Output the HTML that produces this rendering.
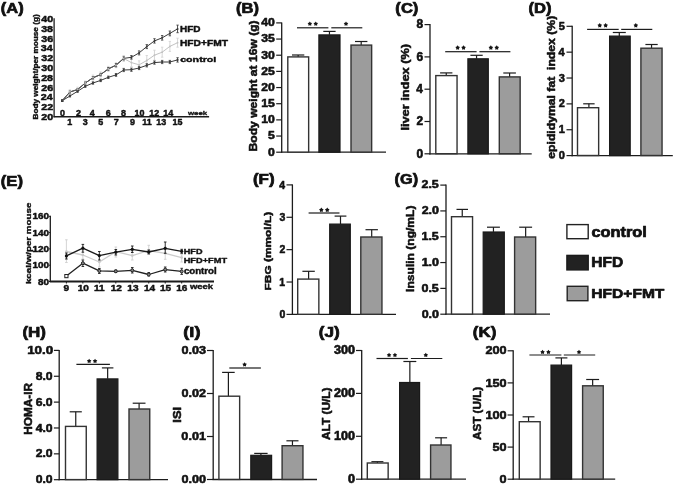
<!DOCTYPE html>
<html><head><meta charset="utf-8"><title>Figure</title>
<style>
html,body{margin:0;padding:0;background:#fff;}
body{width:675px;height:485px;overflow:hidden;}
svg{display:block;filter:blur(0.45px);}
text{font-family:"Liberation Sans",sans-serif;font-weight:bold;stroke:#111;stroke-linejoin:round;}
</style></head><body>
<svg width="675" height="485" viewBox="0 0 675 485">
<rect width="675" height="485" fill="#fff"/>
<line x1="54.1" y1="18.2" x2="54.1" y2="117.3" stroke="#1c1c1c" stroke-width="1.3"/>
<line x1="53.5" y1="116.7" x2="209.1" y2="116.7" stroke="#1c1c1c" stroke-width="1.4"/>
<text transform="translate(41.24,120.1) scale(1.0864,1)" font-size="9.859" stroke-width="0.493" fill="#111">20</text>
<text transform="translate(41.24,110.28) scale(1.0864,1)" font-size="9.859" stroke-width="0.493" fill="#111">22</text>
<text transform="translate(40.86,100.46) scale(1.0864,1)" font-size="9.859" stroke-width="0.493" fill="#111">24</text>
<text transform="translate(41.19,90.64) scale(1.0864,1)" font-size="9.859" stroke-width="0.493" fill="#111">26</text>
<text transform="translate(41.13,80.82) scale(1.0864,1)" font-size="9.859" stroke-width="0.493" fill="#111">28</text>
<text transform="translate(41.24,71) scale(1.0864,1)" font-size="9.859" stroke-width="0.493" fill="#111">30</text>
<text transform="translate(41.24,61.18) scale(1.0864,1)" font-size="9.859" stroke-width="0.493" fill="#111">32</text>
<text transform="translate(40.86,51.36) scale(1.0864,1)" font-size="9.859" stroke-width="0.493" fill="#111">34</text>
<text transform="translate(41.19,41.54) scale(1.0864,1)" font-size="9.859" stroke-width="0.493" fill="#111">36</text>
<text transform="translate(41.13,31.72) scale(1.0864,1)" font-size="9.859" stroke-width="0.493" fill="#111">38</text>
<text transform="translate(41.24,21.9) scale(1.0864,1)" font-size="9.859" stroke-width="0.493" fill="#111">40</text>
<text transform="translate(60.11,115.75) scale(0.9215,1)" font-size="9.718" stroke-width="0.486" fill="#111">0</text>
<text transform="translate(76.04,115.75) scale(0.9215,1)" font-size="9.718" stroke-width="0.486" fill="#111">2</text>
<text transform="translate(89.67,115.75) scale(0.9215,1)" font-size="9.718" stroke-width="0.486" fill="#111">4</text>
<text transform="translate(105.81,115.75) scale(0.9215,1)" font-size="9.718" stroke-width="0.486" fill="#111">6</text>
<text transform="translate(120.91,115.75) scale(0.9215,1)" font-size="9.718" stroke-width="0.486" fill="#111">8</text>
<text transform="translate(134.42,115.75) scale(0.9215,1)" font-size="9.718" stroke-width="0.486" fill="#111">10</text>
<text transform="translate(149.32,115.75) scale(0.9215,1)" font-size="9.718" stroke-width="0.486" fill="#111">12</text>
<text transform="translate(163.26,115.75) scale(0.9215,1)" font-size="9.718" stroke-width="0.486" fill="#111">14</text>
<text transform="translate(67.34,125.05) scale(0.9215,1)" font-size="9.718" stroke-width="0.486" fill="#111">1</text>
<text transform="translate(82.66,125.05) scale(0.9215,1)" font-size="9.718" stroke-width="0.486" fill="#111">3</text>
<text transform="translate(98.19,125.05) scale(0.9215,1)" font-size="9.718" stroke-width="0.486" fill="#111">5</text>
<text transform="translate(113.81,125.05) scale(0.9215,1)" font-size="9.718" stroke-width="0.486" fill="#111">7</text>
<text transform="translate(129.91,125.05) scale(0.9215,1)" font-size="9.718" stroke-width="0.486" fill="#111">9</text>
<text transform="translate(142.3,125.05) scale(0.9215,1)" font-size="9.718" stroke-width="0.486" fill="#111">11</text>
<text transform="translate(156.3,125.05) scale(0.9215,1)" font-size="9.718" stroke-width="0.486" fill="#111">13</text>
<text transform="translate(172.55,125.05) scale(0.9215,1)" font-size="9.718" stroke-width="0.486" fill="#111">15</text>
<text transform="translate(187.9,115.39) scale(1.3254,1)" font-size="5.986" stroke-width="0.299" fill="#111">week</text>
<line x1="62.2" y1="99.9" x2="62.2" y2="101.5" stroke="#d2d2d2" stroke-width="0.9"/>
<line x1="61" y1="99.9" x2="63.4" y2="99.9" stroke="#d2d2d2" stroke-width="0.8"/>
<line x1="61" y1="101.5" x2="63.4" y2="101.5" stroke="#d2d2d2" stroke-width="0.8"/>
<line x1="69.89" y1="89.8" x2="69.89" y2="93.8" stroke="#d2d2d2" stroke-width="0.9"/>
<line x1="68.69" y1="89.8" x2="71.09" y2="89.8" stroke="#d2d2d2" stroke-width="0.8"/>
<line x1="68.69" y1="93.8" x2="71.09" y2="93.8" stroke="#d2d2d2" stroke-width="0.8"/>
<line x1="77.58" y1="87.2" x2="77.58" y2="91.2" stroke="#d2d2d2" stroke-width="0.9"/>
<line x1="76.38" y1="87.2" x2="78.78" y2="87.2" stroke="#d2d2d2" stroke-width="0.8"/>
<line x1="76.38" y1="91.2" x2="78.78" y2="91.2" stroke="#d2d2d2" stroke-width="0.8"/>
<line x1="85.27" y1="81" x2="85.27" y2="85" stroke="#d2d2d2" stroke-width="0.9"/>
<line x1="84.07" y1="81" x2="86.47" y2="81" stroke="#d2d2d2" stroke-width="0.8"/>
<line x1="84.07" y1="85" x2="86.47" y2="85" stroke="#d2d2d2" stroke-width="0.8"/>
<line x1="92.96" y1="75.1" x2="92.96" y2="80.1" stroke="#d2d2d2" stroke-width="0.9"/>
<line x1="91.76" y1="75.1" x2="94.16" y2="75.1" stroke="#d2d2d2" stroke-width="0.8"/>
<line x1="91.76" y1="80.1" x2="94.16" y2="80.1" stroke="#d2d2d2" stroke-width="0.8"/>
<line x1="100.65" y1="71.9" x2="100.65" y2="76.9" stroke="#d2d2d2" stroke-width="0.9"/>
<line x1="99.45" y1="71.9" x2="101.85" y2="71.9" stroke="#d2d2d2" stroke-width="0.8"/>
<line x1="99.45" y1="76.9" x2="101.85" y2="76.9" stroke="#d2d2d2" stroke-width="0.8"/>
<line x1="108.34" y1="66.4" x2="108.34" y2="71.4" stroke="#d2d2d2" stroke-width="0.9"/>
<line x1="107.14" y1="66.4" x2="109.54" y2="66.4" stroke="#d2d2d2" stroke-width="0.8"/>
<line x1="107.14" y1="71.4" x2="109.54" y2="71.4" stroke="#d2d2d2" stroke-width="0.8"/>
<line x1="116.03" y1="62.7" x2="116.03" y2="67.7" stroke="#d2d2d2" stroke-width="0.9"/>
<line x1="114.83" y1="62.7" x2="117.23" y2="62.7" stroke="#d2d2d2" stroke-width="0.8"/>
<line x1="114.83" y1="67.7" x2="117.23" y2="67.7" stroke="#d2d2d2" stroke-width="0.8"/>
<line x1="123.72" y1="55.5" x2="123.72" y2="61.5" stroke="#d2d2d2" stroke-width="0.9"/>
<line x1="122.52" y1="55.5" x2="124.92" y2="55.5" stroke="#d2d2d2" stroke-width="0.8"/>
<line x1="122.52" y1="61.5" x2="124.92" y2="61.5" stroke="#d2d2d2" stroke-width="0.8"/>
<line x1="131.41" y1="58.6" x2="131.41" y2="66.6" stroke="#d2d2d2" stroke-width="0.9"/>
<line x1="130.21" y1="58.6" x2="132.61" y2="58.6" stroke="#d2d2d2" stroke-width="0.8"/>
<line x1="130.21" y1="66.6" x2="132.61" y2="66.6" stroke="#d2d2d2" stroke-width="0.8"/>
<line x1="139.1" y1="60.8" x2="139.1" y2="68.8" stroke="#d2d2d2" stroke-width="0.9"/>
<line x1="137.9" y1="60.8" x2="140.3" y2="60.8" stroke="#d2d2d2" stroke-width="0.8"/>
<line x1="137.9" y1="68.8" x2="140.3" y2="68.8" stroke="#d2d2d2" stroke-width="0.8"/>
<line x1="146.79" y1="55.5" x2="146.79" y2="65.5" stroke="#d2d2d2" stroke-width="0.9"/>
<line x1="145.59" y1="55.5" x2="147.99" y2="55.5" stroke="#d2d2d2" stroke-width="0.8"/>
<line x1="145.59" y1="65.5" x2="147.99" y2="65.5" stroke="#d2d2d2" stroke-width="0.8"/>
<line x1="154.48" y1="50.2" x2="154.48" y2="60.2" stroke="#d2d2d2" stroke-width="0.9"/>
<line x1="153.28" y1="50.2" x2="155.68" y2="50.2" stroke="#d2d2d2" stroke-width="0.8"/>
<line x1="153.28" y1="60.2" x2="155.68" y2="60.2" stroke="#d2d2d2" stroke-width="0.8"/>
<line x1="162.17" y1="47.2" x2="162.17" y2="57.2" stroke="#d2d2d2" stroke-width="0.9"/>
<line x1="160.97" y1="47.2" x2="163.37" y2="47.2" stroke="#d2d2d2" stroke-width="0.8"/>
<line x1="160.97" y1="57.2" x2="163.37" y2="57.2" stroke="#d2d2d2" stroke-width="0.8"/>
<line x1="169.86" y1="41.4" x2="169.86" y2="51.4" stroke="#d2d2d2" stroke-width="0.9"/>
<line x1="168.66" y1="41.4" x2="171.06" y2="41.4" stroke="#d2d2d2" stroke-width="0.8"/>
<line x1="168.66" y1="51.4" x2="171.06" y2="51.4" stroke="#d2d2d2" stroke-width="0.8"/>
<line x1="177.55" y1="38.2" x2="177.55" y2="47.2" stroke="#d2d2d2" stroke-width="0.9"/>
<line x1="176.35" y1="38.2" x2="178.75" y2="38.2" stroke="#d2d2d2" stroke-width="0.8"/>
<line x1="176.35" y1="47.2" x2="178.75" y2="47.2" stroke="#d2d2d2" stroke-width="0.8"/>
<polyline points="62.2,100.7 69.89,91.8 77.58,89.2 85.27,83 92.96,77.6 100.65,74.4 108.34,68.9 116.03,65.2 123.72,58.5 131.41,62.6 139.1,64.8 146.79,60.5 154.48,55.2 162.17,52.2 169.86,46.4 177.55,42.7" fill="none" stroke="#c2c2c2" stroke-width="1.0" stroke-linejoin="round"/>
<circle cx="62.2" cy="100.7" r="0.9" fill="#c2c2c2"/>
<circle cx="69.89" cy="91.8" r="0.9" fill="#c2c2c2"/>
<circle cx="77.58" cy="89.2" r="0.9" fill="#c2c2c2"/>
<circle cx="85.27" cy="83" r="0.9" fill="#c2c2c2"/>
<circle cx="92.96" cy="77.6" r="0.9" fill="#c2c2c2"/>
<circle cx="100.65" cy="74.4" r="0.9" fill="#c2c2c2"/>
<circle cx="108.34" cy="68.9" r="0.9" fill="#c2c2c2"/>
<circle cx="116.03" cy="65.2" r="0.9" fill="#c2c2c2"/>
<circle cx="123.72" cy="58.5" r="0.9" fill="#c2c2c2"/>
<circle cx="131.41" cy="62.6" r="0.9" fill="#c2c2c2"/>
<circle cx="139.1" cy="64.8" r="0.9" fill="#c2c2c2"/>
<circle cx="146.79" cy="60.5" r="0.9" fill="#c2c2c2"/>
<circle cx="154.48" cy="55.2" r="0.9" fill="#c2c2c2"/>
<circle cx="162.17" cy="52.2" r="0.9" fill="#c2c2c2"/>
<circle cx="169.86" cy="46.4" r="0.9" fill="#c2c2c2"/>
<circle cx="177.55" cy="42.7" r="0.9" fill="#c2c2c2"/>
<line x1="62.2" y1="99.9" x2="62.2" y2="101.5" stroke="#3a3a3a" stroke-width="0.9"/>
<line x1="61" y1="99.9" x2="63.4" y2="99.9" stroke="#3a3a3a" stroke-width="0.8"/>
<line x1="61" y1="101.5" x2="63.4" y2="101.5" stroke="#3a3a3a" stroke-width="0.8"/>
<line x1="69.89" y1="95" x2="69.89" y2="97" stroke="#3a3a3a" stroke-width="0.9"/>
<line x1="68.69" y1="95" x2="71.09" y2="95" stroke="#3a3a3a" stroke-width="0.8"/>
<line x1="68.69" y1="97" x2="71.09" y2="97" stroke="#3a3a3a" stroke-width="0.8"/>
<line x1="77.58" y1="90.3" x2="77.58" y2="92.3" stroke="#3a3a3a" stroke-width="0.9"/>
<line x1="76.38" y1="90.3" x2="78.78" y2="90.3" stroke="#3a3a3a" stroke-width="0.8"/>
<line x1="76.38" y1="92.3" x2="78.78" y2="92.3" stroke="#3a3a3a" stroke-width="0.8"/>
<line x1="85.27" y1="85.3" x2="85.27" y2="87.3" stroke="#3a3a3a" stroke-width="0.9"/>
<line x1="84.07" y1="85.3" x2="86.47" y2="85.3" stroke="#3a3a3a" stroke-width="0.8"/>
<line x1="84.07" y1="87.3" x2="86.47" y2="87.3" stroke="#3a3a3a" stroke-width="0.8"/>
<line x1="92.96" y1="81.8" x2="92.96" y2="84.2" stroke="#3a3a3a" stroke-width="0.9"/>
<line x1="91.76" y1="81.8" x2="94.16" y2="81.8" stroke="#3a3a3a" stroke-width="0.8"/>
<line x1="91.76" y1="84.2" x2="94.16" y2="84.2" stroke="#3a3a3a" stroke-width="0.8"/>
<line x1="100.65" y1="79.2" x2="100.65" y2="81.6" stroke="#3a3a3a" stroke-width="0.9"/>
<line x1="99.45" y1="79.2" x2="101.85" y2="79.2" stroke="#3a3a3a" stroke-width="0.8"/>
<line x1="99.45" y1="81.6" x2="101.85" y2="81.6" stroke="#3a3a3a" stroke-width="0.8"/>
<line x1="108.34" y1="76.1" x2="108.34" y2="78.5" stroke="#3a3a3a" stroke-width="0.9"/>
<line x1="107.14" y1="76.1" x2="109.54" y2="76.1" stroke="#3a3a3a" stroke-width="0.8"/>
<line x1="107.14" y1="78.5" x2="109.54" y2="78.5" stroke="#3a3a3a" stroke-width="0.8"/>
<line x1="116.03" y1="73.5" x2="116.03" y2="76.3" stroke="#3a3a3a" stroke-width="0.9"/>
<line x1="114.83" y1="73.5" x2="117.23" y2="73.5" stroke="#3a3a3a" stroke-width="0.8"/>
<line x1="114.83" y1="76.3" x2="117.23" y2="76.3" stroke="#3a3a3a" stroke-width="0.8"/>
<line x1="123.72" y1="68.4" x2="123.72" y2="71.6" stroke="#3a3a3a" stroke-width="0.9"/>
<line x1="122.52" y1="68.4" x2="124.92" y2="68.4" stroke="#3a3a3a" stroke-width="0.8"/>
<line x1="122.52" y1="71.6" x2="124.92" y2="71.6" stroke="#3a3a3a" stroke-width="0.8"/>
<line x1="131.41" y1="68.1" x2="131.41" y2="71.3" stroke="#3a3a3a" stroke-width="0.9"/>
<line x1="130.21" y1="68.1" x2="132.61" y2="68.1" stroke="#3a3a3a" stroke-width="0.8"/>
<line x1="130.21" y1="71.3" x2="132.61" y2="71.3" stroke="#3a3a3a" stroke-width="0.8"/>
<line x1="139.1" y1="66.4" x2="139.1" y2="69.6" stroke="#3a3a3a" stroke-width="0.9"/>
<line x1="137.9" y1="66.4" x2="140.3" y2="66.4" stroke="#3a3a3a" stroke-width="0.8"/>
<line x1="137.9" y1="69.6" x2="140.3" y2="69.6" stroke="#3a3a3a" stroke-width="0.8"/>
<line x1="146.79" y1="63.7" x2="146.79" y2="66.9" stroke="#3a3a3a" stroke-width="0.9"/>
<line x1="145.59" y1="63.7" x2="147.99" y2="63.7" stroke="#3a3a3a" stroke-width="0.8"/>
<line x1="145.59" y1="66.9" x2="147.99" y2="66.9" stroke="#3a3a3a" stroke-width="0.8"/>
<line x1="154.48" y1="61" x2="154.48" y2="64.2" stroke="#3a3a3a" stroke-width="0.9"/>
<line x1="153.28" y1="61" x2="155.68" y2="61" stroke="#3a3a3a" stroke-width="0.8"/>
<line x1="153.28" y1="64.2" x2="155.68" y2="64.2" stroke="#3a3a3a" stroke-width="0.8"/>
<line x1="162.17" y1="60.4" x2="162.17" y2="63.6" stroke="#3a3a3a" stroke-width="0.9"/>
<line x1="160.97" y1="60.4" x2="163.37" y2="60.4" stroke="#3a3a3a" stroke-width="0.8"/>
<line x1="160.97" y1="63.6" x2="163.37" y2="63.6" stroke="#3a3a3a" stroke-width="0.8"/>
<line x1="169.86" y1="60.4" x2="169.86" y2="63.6" stroke="#3a3a3a" stroke-width="0.9"/>
<line x1="168.66" y1="60.4" x2="171.06" y2="60.4" stroke="#3a3a3a" stroke-width="0.8"/>
<line x1="168.66" y1="63.6" x2="171.06" y2="63.6" stroke="#3a3a3a" stroke-width="0.8"/>
<line x1="177.55" y1="57.7" x2="177.55" y2="62.1" stroke="#3a3a3a" stroke-width="0.9"/>
<line x1="176.35" y1="57.7" x2="178.75" y2="57.7" stroke="#3a3a3a" stroke-width="0.8"/>
<line x1="176.35" y1="62.1" x2="178.75" y2="62.1" stroke="#3a3a3a" stroke-width="0.8"/>
<polyline points="62.2,100.7 69.89,96 77.58,91.3 85.27,86.3 92.96,83 100.65,80.4 108.34,77.3 116.03,74.9 123.72,70 131.41,69.7 139.1,68 146.79,65.3 154.48,62.6 162.17,62 169.86,62 177.55,59.9" fill="none" stroke="#3a3a3a" stroke-width="1.0" stroke-linejoin="round"/>
<circle cx="62.2" cy="100.7" r="1.1" fill="#3a3a3a"/>
<circle cx="69.89" cy="96" r="1.1" fill="#3a3a3a"/>
<circle cx="77.58" cy="91.3" r="1.1" fill="#3a3a3a"/>
<circle cx="85.27" cy="86.3" r="1.1" fill="#3a3a3a"/>
<circle cx="92.96" cy="83" r="1.1" fill="#3a3a3a"/>
<circle cx="100.65" cy="80.4" r="1.1" fill="#3a3a3a"/>
<circle cx="108.34" cy="77.3" r="1.1" fill="#3a3a3a"/>
<circle cx="116.03" cy="74.9" r="1.1" fill="#3a3a3a"/>
<circle cx="123.72" cy="70" r="1.1" fill="#3a3a3a"/>
<circle cx="131.41" cy="69.7" r="1.1" fill="#3a3a3a"/>
<circle cx="139.1" cy="68" r="1.1" fill="#3a3a3a"/>
<circle cx="146.79" cy="65.3" r="1.1" fill="#3a3a3a"/>
<circle cx="154.48" cy="62.6" r="1.1" fill="#3a3a3a"/>
<circle cx="162.17" cy="62" r="1.1" fill="#3a3a3a"/>
<circle cx="169.86" cy="62" r="1.1" fill="#3a3a3a"/>
<circle cx="177.55" cy="59.9" r="1.1" fill="#3a3a3a"/>
<line x1="62.2" y1="99.9" x2="62.2" y2="101.5" stroke="#3a3a3a" stroke-width="0.9"/>
<line x1="61" y1="99.9" x2="63.4" y2="99.9" stroke="#3a3a3a" stroke-width="0.8"/>
<line x1="61" y1="101.5" x2="63.4" y2="101.5" stroke="#3a3a3a" stroke-width="0.8"/>
<line x1="69.89" y1="91" x2="69.89" y2="93" stroke="#3a3a3a" stroke-width="0.9"/>
<line x1="68.69" y1="91" x2="71.09" y2="91" stroke="#3a3a3a" stroke-width="0.8"/>
<line x1="68.69" y1="93" x2="71.09" y2="93" stroke="#3a3a3a" stroke-width="0.8"/>
<line x1="77.58" y1="88.6" x2="77.58" y2="90.6" stroke="#3a3a3a" stroke-width="0.9"/>
<line x1="76.38" y1="88.6" x2="78.78" y2="88.6" stroke="#3a3a3a" stroke-width="0.8"/>
<line x1="76.38" y1="90.6" x2="78.78" y2="90.6" stroke="#3a3a3a" stroke-width="0.8"/>
<line x1="85.27" y1="82" x2="85.27" y2="84" stroke="#3a3a3a" stroke-width="0.9"/>
<line x1="84.07" y1="82" x2="86.47" y2="82" stroke="#3a3a3a" stroke-width="0.8"/>
<line x1="84.07" y1="84" x2="86.47" y2="84" stroke="#3a3a3a" stroke-width="0.8"/>
<line x1="92.96" y1="76.6" x2="92.96" y2="79" stroke="#3a3a3a" stroke-width="0.9"/>
<line x1="91.76" y1="76.6" x2="94.16" y2="76.6" stroke="#3a3a3a" stroke-width="0.8"/>
<line x1="91.76" y1="79" x2="94.16" y2="79" stroke="#3a3a3a" stroke-width="0.8"/>
<line x1="100.65" y1="73.4" x2="100.65" y2="75.8" stroke="#3a3a3a" stroke-width="0.9"/>
<line x1="99.45" y1="73.4" x2="101.85" y2="73.4" stroke="#3a3a3a" stroke-width="0.8"/>
<line x1="99.45" y1="75.8" x2="101.85" y2="75.8" stroke="#3a3a3a" stroke-width="0.8"/>
<line x1="108.34" y1="67.5" x2="108.34" y2="70.3" stroke="#3a3a3a" stroke-width="0.9"/>
<line x1="107.14" y1="67.5" x2="109.54" y2="67.5" stroke="#3a3a3a" stroke-width="0.8"/>
<line x1="107.14" y1="70.3" x2="109.54" y2="70.3" stroke="#3a3a3a" stroke-width="0.8"/>
<line x1="116.03" y1="63.6" x2="116.03" y2="66.8" stroke="#3a3a3a" stroke-width="0.9"/>
<line x1="114.83" y1="63.6" x2="117.23" y2="63.6" stroke="#3a3a3a" stroke-width="0.8"/>
<line x1="114.83" y1="66.8" x2="117.23" y2="66.8" stroke="#3a3a3a" stroke-width="0.8"/>
<line x1="123.72" y1="56.8" x2="123.72" y2="60" stroke="#3a3a3a" stroke-width="0.9"/>
<line x1="122.52" y1="56.8" x2="124.92" y2="56.8" stroke="#3a3a3a" stroke-width="0.8"/>
<line x1="122.52" y1="60" x2="124.92" y2="60" stroke="#3a3a3a" stroke-width="0.8"/>
<line x1="131.41" y1="55.5" x2="131.41" y2="59.1" stroke="#3a3a3a" stroke-width="0.9"/>
<line x1="130.21" y1="55.5" x2="132.61" y2="55.5" stroke="#3a3a3a" stroke-width="0.8"/>
<line x1="130.21" y1="59.1" x2="132.61" y2="59.1" stroke="#3a3a3a" stroke-width="0.8"/>
<line x1="139.1" y1="50.9" x2="139.1" y2="54.9" stroke="#3a3a3a" stroke-width="0.9"/>
<line x1="137.9" y1="50.9" x2="140.3" y2="50.9" stroke="#3a3a3a" stroke-width="0.8"/>
<line x1="137.9" y1="54.9" x2="140.3" y2="54.9" stroke="#3a3a3a" stroke-width="0.8"/>
<line x1="146.79" y1="44.6" x2="146.79" y2="48.6" stroke="#3a3a3a" stroke-width="0.9"/>
<line x1="145.59" y1="44.6" x2="147.99" y2="44.6" stroke="#3a3a3a" stroke-width="0.8"/>
<line x1="145.59" y1="48.6" x2="147.99" y2="48.6" stroke="#3a3a3a" stroke-width="0.8"/>
<line x1="154.48" y1="38.7" x2="154.48" y2="43.1" stroke="#3a3a3a" stroke-width="0.9"/>
<line x1="153.28" y1="38.7" x2="155.68" y2="38.7" stroke="#3a3a3a" stroke-width="0.8"/>
<line x1="153.28" y1="43.1" x2="155.68" y2="43.1" stroke="#3a3a3a" stroke-width="0.8"/>
<line x1="162.17" y1="35.5" x2="162.17" y2="40.1" stroke="#3a3a3a" stroke-width="0.9"/>
<line x1="160.97" y1="35.5" x2="163.37" y2="35.5" stroke="#3a3a3a" stroke-width="0.8"/>
<line x1="160.97" y1="40.1" x2="163.37" y2="40.1" stroke="#3a3a3a" stroke-width="0.8"/>
<line x1="169.86" y1="31" x2="169.86" y2="35.8" stroke="#3a3a3a" stroke-width="0.9"/>
<line x1="168.66" y1="31" x2="171.06" y2="31" stroke="#3a3a3a" stroke-width="0.8"/>
<line x1="168.66" y1="35.8" x2="171.06" y2="35.8" stroke="#3a3a3a" stroke-width="0.8"/>
<line x1="177.55" y1="25.1" x2="177.55" y2="32.7" stroke="#3a3a3a" stroke-width="0.9"/>
<line x1="176.35" y1="25.1" x2="178.75" y2="25.1" stroke="#3a3a3a" stroke-width="0.8"/>
<line x1="176.35" y1="32.7" x2="178.75" y2="32.7" stroke="#3a3a3a" stroke-width="0.8"/>
<polyline points="62.2,100.7 69.89,92 77.58,89.6 85.27,83 92.96,77.8 100.65,74.6 108.34,68.9 116.03,65.2 123.72,58.4 131.41,57.3 139.1,52.9 146.79,46.6 154.48,40.9 162.17,37.8 169.86,33.4 177.55,28.9" fill="none" stroke="#3a3a3a" stroke-width="1.0" stroke-linejoin="round"/>
<circle cx="62.2" cy="100.7" r="1.0" fill="#3a3a3a"/>
<circle cx="69.89" cy="92" r="1.0" fill="#3a3a3a"/>
<circle cx="77.58" cy="89.6" r="1.0" fill="#3a3a3a"/>
<circle cx="85.27" cy="83" r="1.0" fill="#3a3a3a"/>
<circle cx="92.96" cy="77.8" r="1.0" fill="#3a3a3a"/>
<circle cx="100.65" cy="74.6" r="1.0" fill="#3a3a3a"/>
<circle cx="108.34" cy="68.9" r="1.0" fill="#3a3a3a"/>
<circle cx="116.03" cy="65.2" r="1.0" fill="#3a3a3a"/>
<circle cx="123.72" cy="58.4" r="1.0" fill="#3a3a3a"/>
<circle cx="131.41" cy="57.3" r="1.0" fill="#3a3a3a"/>
<circle cx="139.1" cy="52.9" r="1.0" fill="#3a3a3a"/>
<circle cx="146.79" cy="46.6" r="1.0" fill="#3a3a3a"/>
<circle cx="154.48" cy="40.9" r="1.0" fill="#3a3a3a"/>
<circle cx="162.17" cy="37.8" r="1.0" fill="#3a3a3a"/>
<circle cx="169.86" cy="33.4" r="1.0" fill="#3a3a3a"/>
<circle cx="177.55" cy="28.9" r="1.0" fill="#3a3a3a"/>
<polyline points="62.2,100.7 69.89,92 77.58,89.6 85.27,83 92.96,77.8 100.65,74.6 108.34,68.9 116.03,65.2 123.72,58.4" fill="none" stroke="#5a5a5a" stroke-width="1.0" stroke-linejoin="round"/>
<circle cx="69.89" cy="91.8" r="1.0" fill="#b8b8b8"/>
<circle cx="77.58" cy="89.2" r="1.0" fill="#b8b8b8"/>
<circle cx="85.27" cy="83" r="1.0" fill="#b8b8b8"/>
<circle cx="92.96" cy="77.6" r="1.0" fill="#b8b8b8"/>
<circle cx="100.65" cy="74.4" r="1.0" fill="#b8b8b8"/>
<circle cx="108.34" cy="68.9" r="1.0" fill="#b8b8b8"/>
<circle cx="116.03" cy="65.2" r="1.0" fill="#b8b8b8"/>
<circle cx="123.72" cy="58.5" r="1.0" fill="#b8b8b8"/>
<text transform="translate(179.95,32.25) scale(1.2105,1)" font-size="8.261" stroke-width="0.413" fill="#111">HFD</text>
<text transform="translate(179.93,46.15) scale(1.1973,1)" font-size="8.551" stroke-width="0.428" fill="#111">HFD+FMT</text>
<text transform="translate(180.17,62.27) scale(1.4027,1)" font-size="7.619" stroke-width="0.381" fill="#111">control</text>
<text transform="translate(38.06,119.43) rotate(-90) scale(1.0799,1)" font-size="7.600" stroke-width="0.380" fill="#111">Body weight/per mouse (g)</text>
<text transform="translate(0.77,12.72) scale(1.1436,1)" font-size="14.439" stroke-width="0.722" fill="#111">(A)</text>
<line x1="50.3" y1="215.8" x2="50.3" y2="282.1" stroke="#1c1c1c" stroke-width="1.3"/>
<line x1="49.7" y1="281.5" x2="214" y2="281.5" stroke="#1c1c1c" stroke-width="1.8"/>
<line x1="48.8" y1="281.5" x2="50.3" y2="281.5" stroke="#1c1c1c" stroke-width="1.0"/>
<text transform="translate(38.07,284.56) scale(1.1198,1)" font-size="8.873" stroke-width="0.444" fill="#111">80</text>
<line x1="48.8" y1="265.2" x2="50.3" y2="265.2" stroke="#1c1c1c" stroke-width="1.0"/>
<text transform="translate(32.55,268.26) scale(1.1198,1)" font-size="8.873" stroke-width="0.444" fill="#111">100</text>
<line x1="48.8" y1="248.9" x2="50.3" y2="248.9" stroke="#1c1c1c" stroke-width="1.0"/>
<text transform="translate(32.55,251.96) scale(1.1198,1)" font-size="8.873" stroke-width="0.444" fill="#111">120</text>
<line x1="48.8" y1="232.6" x2="50.3" y2="232.6" stroke="#1c1c1c" stroke-width="1.0"/>
<text transform="translate(32.55,235.66) scale(1.1198,1)" font-size="8.873" stroke-width="0.444" fill="#111">140</text>
<line x1="48.8" y1="216.3" x2="50.3" y2="216.3" stroke="#1c1c1c" stroke-width="1.0"/>
<text transform="translate(32.55,219.36) scale(1.1198,1)" font-size="8.873" stroke-width="0.444" fill="#111">160</text>
<line x1="66.4" y1="281.5" x2="66.4" y2="283.5" stroke="#1c1c1c" stroke-width="1.0"/>
<text transform="translate(63.5,291.2) scale(1.2000,1)" font-size="8.400" stroke-width="0.420" fill="#111">9</text>
<line x1="82.87" y1="281.5" x2="82.87" y2="283.5" stroke="#1c1c1c" stroke-width="1.0"/>
<text transform="translate(77.68,291.2) scale(1.2000,1)" font-size="8.400" stroke-width="0.420" fill="#111">10</text>
<line x1="99.34" y1="281.5" x2="99.34" y2="283.5" stroke="#1c1c1c" stroke-width="1.0"/>
<text transform="translate(94.08,291.2) scale(1.2000,1)" font-size="8.400" stroke-width="0.420" fill="#111">11</text>
<line x1="115.81" y1="281.5" x2="115.81" y2="283.5" stroke="#1c1c1c" stroke-width="1.0"/>
<text transform="translate(110.68,291.2) scale(1.2000,1)" font-size="8.400" stroke-width="0.420" fill="#111">12</text>
<line x1="132.28" y1="281.5" x2="132.28" y2="283.5" stroke="#1c1c1c" stroke-width="1.0"/>
<text transform="translate(127.35,291.2) scale(1.2000,1)" font-size="8.400" stroke-width="0.420" fill="#111">13</text>
<line x1="148.75" y1="281.5" x2="148.75" y2="283.5" stroke="#1c1c1c" stroke-width="1.0"/>
<text transform="translate(143.9,291.2) scale(1.2000,1)" font-size="8.400" stroke-width="0.420" fill="#111">14</text>
<line x1="165.22" y1="281.5" x2="165.22" y2="283.5" stroke="#1c1c1c" stroke-width="1.0"/>
<text transform="translate(160,291.2) scale(1.2000,1)" font-size="8.400" stroke-width="0.420" fill="#111">15</text>
<line x1="181.69" y1="281.5" x2="181.69" y2="283.5" stroke="#1c1c1c" stroke-width="1.0"/>
<text transform="translate(176.25,291.2) scale(1.2000,1)" font-size="8.400" stroke-width="0.420" fill="#111">16</text>
<text transform="translate(189.9,288.88) scale(1.2626,1)" font-size="7.483" stroke-width="0.374" fill="#111">week</text>
<line x1="66.4" y1="239.8" x2="66.4" y2="262.5" stroke="#cfcfcf" stroke-width="0.9"/>
<line x1="65.1" y1="239.8" x2="67.7" y2="239.8" stroke="#cfcfcf" stroke-width="0.9"/>
<line x1="65.1" y1="262.5" x2="67.7" y2="262.5" stroke="#cfcfcf" stroke-width="0.9"/>
<line x1="82.87" y1="250" x2="82.87" y2="259" stroke="#cfcfcf" stroke-width="0.9"/>
<line x1="81.57" y1="250" x2="84.17" y2="250" stroke="#cfcfcf" stroke-width="0.9"/>
<line x1="81.57" y1="259" x2="84.17" y2="259" stroke="#cfcfcf" stroke-width="0.9"/>
<line x1="99.34" y1="256" x2="99.34" y2="267" stroke="#cfcfcf" stroke-width="0.9"/>
<line x1="98.04" y1="256" x2="100.64" y2="256" stroke="#cfcfcf" stroke-width="0.9"/>
<line x1="98.04" y1="267" x2="100.64" y2="267" stroke="#cfcfcf" stroke-width="0.9"/>
<line x1="115.81" y1="247" x2="115.81" y2="257" stroke="#cfcfcf" stroke-width="0.9"/>
<line x1="114.51" y1="247" x2="117.11" y2="247" stroke="#cfcfcf" stroke-width="0.9"/>
<line x1="114.51" y1="257" x2="117.11" y2="257" stroke="#cfcfcf" stroke-width="0.9"/>
<line x1="132.28" y1="251" x2="132.28" y2="260" stroke="#cfcfcf" stroke-width="0.9"/>
<line x1="130.98" y1="251" x2="133.58" y2="251" stroke="#cfcfcf" stroke-width="0.9"/>
<line x1="130.98" y1="260" x2="133.58" y2="260" stroke="#cfcfcf" stroke-width="0.9"/>
<line x1="148.75" y1="245.3" x2="148.75" y2="253.3" stroke="#cfcfcf" stroke-width="0.9"/>
<line x1="147.45" y1="245.3" x2="150.05" y2="245.3" stroke="#cfcfcf" stroke-width="0.9"/>
<line x1="147.45" y1="253.3" x2="150.05" y2="253.3" stroke="#cfcfcf" stroke-width="0.9"/>
<line x1="165.22" y1="247.3" x2="165.22" y2="259.3" stroke="#cfcfcf" stroke-width="0.9"/>
<line x1="163.92" y1="247.3" x2="166.52" y2="247.3" stroke="#cfcfcf" stroke-width="0.9"/>
<line x1="163.92" y1="259.3" x2="166.52" y2="259.3" stroke="#cfcfcf" stroke-width="0.9"/>
<line x1="181.69" y1="254.7" x2="181.69" y2="262" stroke="#cfcfcf" stroke-width="0.9"/>
<line x1="180.39" y1="254.7" x2="182.99" y2="254.7" stroke="#cfcfcf" stroke-width="0.9"/>
<line x1="180.39" y1="262" x2="182.99" y2="262" stroke="#cfcfcf" stroke-width="0.9"/>
<polyline points="66.4,251.5 82.87,255 99.34,262 115.81,251.7 132.28,255.6 148.75,250.5 165.22,253.3 181.69,257.6" fill="none" stroke="#cccccc" stroke-width="1.3" stroke-linejoin="round"/>
<circle cx="66.4" cy="251.5" r="1.3" fill="#c8c8c8"/>
<circle cx="82.87" cy="255" r="1.3" fill="#c8c8c8"/>
<circle cx="99.34" cy="262" r="1.3" fill="#c8c8c8"/>
<circle cx="115.81" cy="251.7" r="1.3" fill="#c8c8c8"/>
<circle cx="132.28" cy="255.6" r="1.3" fill="#c8c8c8"/>
<circle cx="148.75" cy="250.5" r="1.3" fill="#c8c8c8"/>
<circle cx="165.22" cy="253.3" r="1.3" fill="#c8c8c8"/>
<circle cx="181.69" cy="257.6" r="1.3" fill="#c8c8c8"/>
<line x1="66.4" y1="274.5" x2="66.4" y2="277.5" stroke="#222" stroke-width="0.9"/>
<line x1="65.1" y1="274.5" x2="67.7" y2="274.5" stroke="#222" stroke-width="0.9"/>
<line x1="65.1" y1="277.5" x2="67.7" y2="277.5" stroke="#222" stroke-width="0.9"/>
<line x1="82.87" y1="260" x2="82.87" y2="266.5" stroke="#222" stroke-width="0.9"/>
<line x1="81.57" y1="260" x2="84.17" y2="260" stroke="#222" stroke-width="0.9"/>
<line x1="81.57" y1="266.5" x2="84.17" y2="266.5" stroke="#222" stroke-width="0.9"/>
<line x1="99.34" y1="268.5" x2="99.34" y2="273.5" stroke="#222" stroke-width="0.9"/>
<line x1="98.04" y1="268.5" x2="100.64" y2="268.5" stroke="#222" stroke-width="0.9"/>
<line x1="98.04" y1="273.5" x2="100.64" y2="273.5" stroke="#222" stroke-width="0.9"/>
<line x1="115.81" y1="270" x2="115.81" y2="272.5" stroke="#222" stroke-width="0.9"/>
<line x1="114.51" y1="270" x2="117.11" y2="270" stroke="#222" stroke-width="0.9"/>
<line x1="114.51" y1="272.5" x2="117.11" y2="272.5" stroke="#222" stroke-width="0.9"/>
<line x1="132.28" y1="267.5" x2="132.28" y2="273" stroke="#222" stroke-width="0.9"/>
<line x1="130.98" y1="267.5" x2="133.58" y2="267.5" stroke="#222" stroke-width="0.9"/>
<line x1="130.98" y1="273" x2="133.58" y2="273" stroke="#222" stroke-width="0.9"/>
<line x1="148.75" y1="272.5" x2="148.75" y2="276" stroke="#222" stroke-width="0.9"/>
<line x1="147.45" y1="272.5" x2="150.05" y2="272.5" stroke="#222" stroke-width="0.9"/>
<line x1="147.45" y1="276" x2="150.05" y2="276" stroke="#222" stroke-width="0.9"/>
<line x1="165.22" y1="267" x2="165.22" y2="272" stroke="#222" stroke-width="0.9"/>
<line x1="163.92" y1="267" x2="166.52" y2="267" stroke="#222" stroke-width="0.9"/>
<line x1="163.92" y1="272" x2="166.52" y2="272" stroke="#222" stroke-width="0.9"/>
<line x1="181.69" y1="268.3" x2="181.69" y2="274.4" stroke="#222" stroke-width="0.9"/>
<line x1="180.39" y1="268.3" x2="182.99" y2="268.3" stroke="#222" stroke-width="0.9"/>
<line x1="180.39" y1="274.4" x2="182.99" y2="274.4" stroke="#222" stroke-width="0.9"/>
<polyline points="66.4,276.1 82.87,263.2 99.34,270.9 115.81,271.3 132.28,270.3 148.75,274.5 165.22,269.6 181.69,271.4" fill="none" stroke="#222" stroke-width="1.3" stroke-linejoin="round"/>
<rect x="64.8" y="274.5" width="3.2" height="3.2" fill="#fff" stroke="#222" stroke-width="1"/>
<circle cx="82.87" cy="263.2" r="1.5" fill="#888" stroke="#222" stroke-width="1"/>
<circle cx="99.34" cy="270.9" r="1.5" fill="#888" stroke="#222" stroke-width="1"/>
<circle cx="115.81" cy="271.3" r="1.5" fill="#888" stroke="#222" stroke-width="1"/>
<circle cx="132.28" cy="270.3" r="1.5" fill="#888" stroke="#222" stroke-width="1"/>
<circle cx="148.75" cy="274.5" r="1.5" fill="#888" stroke="#222" stroke-width="1"/>
<circle cx="165.22" cy="269.6" r="1.5" fill="#888" stroke="#222" stroke-width="1"/>
<circle cx="181.69" cy="271.4" r="1.5" fill="#888" stroke="#222" stroke-width="1"/>
<line x1="66.4" y1="253" x2="66.4" y2="259" stroke="#1a1a1a" stroke-width="0.9"/>
<line x1="65.1" y1="253" x2="67.7" y2="253" stroke="#1a1a1a" stroke-width="0.9"/>
<line x1="65.1" y1="259" x2="67.7" y2="259" stroke="#1a1a1a" stroke-width="0.9"/>
<line x1="82.87" y1="244.4" x2="82.87" y2="252.2" stroke="#1a1a1a" stroke-width="0.9"/>
<line x1="81.57" y1="244.4" x2="84.17" y2="244.4" stroke="#1a1a1a" stroke-width="0.9"/>
<line x1="81.57" y1="252.2" x2="84.17" y2="252.2" stroke="#1a1a1a" stroke-width="0.9"/>
<line x1="99.34" y1="251.5" x2="99.34" y2="260" stroke="#1a1a1a" stroke-width="0.9"/>
<line x1="98.04" y1="251.5" x2="100.64" y2="251.5" stroke="#1a1a1a" stroke-width="0.9"/>
<line x1="98.04" y1="260" x2="100.64" y2="260" stroke="#1a1a1a" stroke-width="0.9"/>
<line x1="115.81" y1="249.5" x2="115.81" y2="255" stroke="#1a1a1a" stroke-width="0.9"/>
<line x1="114.51" y1="249.5" x2="117.11" y2="249.5" stroke="#1a1a1a" stroke-width="0.9"/>
<line x1="114.51" y1="255" x2="117.11" y2="255" stroke="#1a1a1a" stroke-width="0.9"/>
<line x1="132.28" y1="246" x2="132.28" y2="252.5" stroke="#1a1a1a" stroke-width="0.9"/>
<line x1="130.98" y1="246" x2="133.58" y2="246" stroke="#1a1a1a" stroke-width="0.9"/>
<line x1="130.98" y1="252.5" x2="133.58" y2="252.5" stroke="#1a1a1a" stroke-width="0.9"/>
<line x1="148.75" y1="250" x2="148.75" y2="254" stroke="#1a1a1a" stroke-width="0.9"/>
<line x1="147.45" y1="250" x2="150.05" y2="250" stroke="#1a1a1a" stroke-width="0.9"/>
<line x1="147.45" y1="254" x2="150.05" y2="254" stroke="#1a1a1a" stroke-width="0.9"/>
<line x1="165.22" y1="242" x2="165.22" y2="253.3" stroke="#1a1a1a" stroke-width="0.9"/>
<line x1="163.92" y1="242" x2="166.52" y2="242" stroke="#1a1a1a" stroke-width="0.9"/>
<line x1="163.92" y1="253.3" x2="166.52" y2="253.3" stroke="#1a1a1a" stroke-width="0.9"/>
<line x1="181.69" y1="249.3" x2="181.69" y2="253.3" stroke="#1a1a1a" stroke-width="0.9"/>
<line x1="180.39" y1="249.3" x2="182.99" y2="249.3" stroke="#1a1a1a" stroke-width="0.9"/>
<line x1="180.39" y1="253.3" x2="182.99" y2="253.3" stroke="#1a1a1a" stroke-width="0.9"/>
<polyline points="66.4,255.9 82.87,248.2 99.34,255.6 115.81,252.2 132.28,249.3 148.75,252 165.22,248.3 181.69,251.3" fill="none" stroke="#1a1a1a" stroke-width="1.3" stroke-linejoin="round"/>
<circle cx="66.4" cy="255.9" r="1.6" fill="#111"/>
<circle cx="82.87" cy="248.2" r="1.6" fill="#111"/>
<circle cx="99.34" cy="255.6" r="1.6" fill="#111"/>
<circle cx="115.81" cy="252.2" r="1.6" fill="#111"/>
<circle cx="132.28" cy="249.3" r="1.6" fill="#111"/>
<circle cx="148.75" cy="252" r="1.6" fill="#111"/>
<circle cx="165.22" cy="248.3" r="1.6" fill="#111"/>
<circle cx="181.69" cy="251.3" r="1.6" fill="#111"/>
<text transform="translate(183.71,253.85) scale(1.1664,1)" font-size="7.826" stroke-width="0.391" fill="#111">HFD</text>
<text transform="translate(183.7,262.75) scale(1.1595,1)" font-size="7.971" stroke-width="0.399" fill="#111">HFD+FMT</text>
<text transform="translate(183.91,274.17) scale(1.1663,1)" font-size="8.299" stroke-width="0.415" fill="#111">control</text>
<text transform="translate(30.55,284.08) rotate(-90) scale(1.3568,1)" font-size="7.200" stroke-width="0.360" fill="#111">kcal/w/per mouse</text>
<text transform="translate(0.77,186.31) scale(1.1140,1)" font-size="14.973" stroke-width="0.749" fill="#111">(E)</text>
<line x1="281.7" y1="22.4" x2="281.7" y2="152.8" stroke="#1c1c1c" stroke-width="1.3"/>
<line x1="281.1" y1="152.2" x2="386" y2="152.2" stroke="#1c1c1c" stroke-width="1.3"/>
<line x1="276.2" y1="152.2" x2="281.7" y2="152.2" stroke="#1c1c1c" stroke-width="1.2"/>
<text transform="translate(268.1,155.59) scale(1.1130,1)" font-size="10.986" stroke-width="0.549" fill="#111">0</text>
<line x1="276.2" y1="136.04" x2="281.7" y2="136.04" stroke="#1c1c1c" stroke-width="1.2"/>
<text transform="translate(267.92,139.43) scale(1.1130,1)" font-size="10.986" stroke-width="0.549" fill="#111">5</text>
<line x1="276.2" y1="119.88" x2="281.7" y2="119.88" stroke="#1c1c1c" stroke-width="1.2"/>
<text transform="translate(261.32,123.27) scale(1.1130,1)" font-size="10.986" stroke-width="0.549" fill="#111">10</text>
<line x1="276.2" y1="103.71" x2="281.7" y2="103.71" stroke="#1c1c1c" stroke-width="1.2"/>
<text transform="translate(261.13,107.1) scale(1.1130,1)" font-size="10.986" stroke-width="0.549" fill="#111">15</text>
<line x1="276.2" y1="87.55" x2="281.7" y2="87.55" stroke="#1c1c1c" stroke-width="1.2"/>
<text transform="translate(261.32,90.94) scale(1.1130,1)" font-size="10.986" stroke-width="0.549" fill="#111">20</text>
<line x1="276.2" y1="71.39" x2="281.7" y2="71.39" stroke="#1c1c1c" stroke-width="1.2"/>
<text transform="translate(261.13,74.78) scale(1.1130,1)" font-size="10.986" stroke-width="0.549" fill="#111">25</text>
<line x1="276.2" y1="55.22" x2="281.7" y2="55.22" stroke="#1c1c1c" stroke-width="1.2"/>
<text transform="translate(261.32,58.62) scale(1.1130,1)" font-size="10.986" stroke-width="0.549" fill="#111">30</text>
<line x1="276.2" y1="39.06" x2="281.7" y2="39.06" stroke="#1c1c1c" stroke-width="1.2"/>
<text transform="translate(261.13,42.45) scale(1.1130,1)" font-size="10.986" stroke-width="0.549" fill="#111">35</text>
<line x1="276.2" y1="22.9" x2="281.7" y2="22.9" stroke="#1c1c1c" stroke-width="1.2"/>
<text transform="translate(261.32,26.29) scale(1.1130,1)" font-size="10.986" stroke-width="0.549" fill="#111">40</text>
<line x1="298.15" y1="55" x2="298.15" y2="57" stroke="#1c1c1c" stroke-width="1.2"/>
<line x1="292" y1="55" x2="304.3" y2="55" stroke="#1c1c1c" stroke-width="1.2"/>
<rect x="287.8" y="56.9" width="20.85" height="95.2" fill="#ffffff" stroke="#333333" stroke-width="1.4"/>
<line x1="329.45" y1="31.4" x2="329.45" y2="34.8" stroke="#1c1c1c" stroke-width="1.2"/>
<line x1="323.3" y1="31.4" x2="335.6" y2="31.4" stroke="#1c1c1c" stroke-width="1.2"/>
<rect x="318.9" y="34.9" width="21.1" height="117.3" fill="#222222" stroke="#1a1a1a" stroke-width="1.2"/>
<line x1="361.2" y1="41.5" x2="361.2" y2="45.2" stroke="#1c1c1c" stroke-width="1.2"/>
<line x1="355" y1="41.5" x2="367.4" y2="41.5" stroke="#1c1c1c" stroke-width="1.2"/>
<rect x="351" y="45.1" width="20.65" height="107" fill="#9c9c9c" stroke="#333333" stroke-width="1.4"/>
<line x1="297" y1="27.8" x2="328.4" y2="27.8" stroke="#1c1c1c" stroke-width="1.2"/>
<line x1="331.3" y1="27.8" x2="362.3" y2="27.8" stroke="#1c1c1c" stroke-width="1.2"/>
<polygon points="309.85,21.45 310.7,22.68 312.13,23.11 311.23,24.3 311.26,25.79 309.85,25.3 308.44,25.79 308.47,24.3 307.57,23.11 309,22.68" fill="#161616"/>
<polygon points="315.75,21.45 316.6,22.68 318.03,23.11 317.13,24.3 317.16,25.79 315.75,25.3 314.34,25.79 314.37,24.3 313.47,23.11 314.9,22.68" fill="#161616"/>
<polygon points="346,21.45 346.85,22.68 348.28,23.11 347.38,24.3 347.41,25.79 346,25.3 344.59,25.79 344.62,24.3 343.72,23.11 345.15,22.68" fill="#161616"/>
<text transform="translate(257.43,151.49) rotate(-90) scale(1.1880,1)" font-size="10.200" stroke-width="0.510" fill="#111">Body weight at 16w (g)</text>
<text transform="translate(235.97,12.72) scale(1.1436,1)" font-size="14.439" stroke-width="0.722" fill="#111">(B)</text>
<line x1="430" y1="24.1" x2="430" y2="154.4" stroke="#1c1c1c" stroke-width="1.3"/>
<line x1="429.4" y1="153.8" x2="531.7" y2="153.8" stroke="#1c1c1c" stroke-width="1.3"/>
<line x1="424.5" y1="153.8" x2="430" y2="153.8" stroke="#1c1c1c" stroke-width="1.2"/>
<text transform="translate(416.56,157.53) scale(0.9956,1)" font-size="11.972" stroke-width="0.599" fill="#111">0</text>
<line x1="424.5" y1="121.5" x2="430" y2="121.5" stroke="#1c1c1c" stroke-width="1.2"/>
<text transform="translate(416.56,125.23) scale(0.9956,1)" font-size="11.972" stroke-width="0.599" fill="#111">2</text>
<line x1="424.5" y1="89.2" x2="430" y2="89.2" stroke="#1c1c1c" stroke-width="1.2"/>
<text transform="translate(416.14,92.93) scale(0.9956,1)" font-size="11.972" stroke-width="0.599" fill="#111">4</text>
<line x1="424.5" y1="56.9" x2="430" y2="56.9" stroke="#1c1c1c" stroke-width="1.2"/>
<text transform="translate(416.5,60.63) scale(0.9956,1)" font-size="11.972" stroke-width="0.599" fill="#111">6</text>
<line x1="424.5" y1="24.6" x2="430" y2="24.6" stroke="#1c1c1c" stroke-width="1.2"/>
<text transform="translate(416.44,28.33) scale(0.9956,1)" font-size="11.972" stroke-width="0.599" fill="#111">8</text>
<line x1="446.25" y1="72.9" x2="446.25" y2="75.7" stroke="#1c1c1c" stroke-width="1.2"/>
<line x1="440.1" y1="72.9" x2="452.4" y2="72.9" stroke="#1c1c1c" stroke-width="1.2"/>
<rect x="435.8" y="75.6" width="21.25" height="78.1" fill="#ffffff" stroke="#333333" stroke-width="1.4"/>
<line x1="476.55" y1="55.3" x2="476.55" y2="58.7" stroke="#1c1c1c" stroke-width="1.2"/>
<line x1="470.4" y1="55.3" x2="482.7" y2="55.3" stroke="#1c1c1c" stroke-width="1.2"/>
<rect x="467.9" y="58.8" width="20.4" height="95" fill="#222222" stroke="#1a1a1a" stroke-width="1.2"/>
<line x1="509.6" y1="73" x2="509.6" y2="77" stroke="#1c1c1c" stroke-width="1.2"/>
<line x1="503.3" y1="73" x2="515.9" y2="73" stroke="#1c1c1c" stroke-width="1.2"/>
<rect x="499.3" y="76.9" width="20.85" height="76.8" fill="#9c9c9c" stroke="#333333" stroke-width="1.4"/>
<line x1="445.2" y1="51.7" x2="476.6" y2="51.7" stroke="#1c1c1c" stroke-width="1.2"/>
<line x1="479.4" y1="51.7" x2="510.4" y2="51.7" stroke="#1c1c1c" stroke-width="1.2"/>
<polygon points="457.65,45.35 458.5,46.58 459.93,47.01 459.03,48.2 459.06,49.69 457.65,49.2 456.24,49.69 456.27,48.2 455.37,47.01 456.8,46.58" fill="#161616"/>
<polygon points="463.55,45.35 464.4,46.58 465.83,47.01 464.93,48.2 464.96,49.69 463.55,49.2 462.14,49.69 462.17,48.2 461.27,47.01 462.7,46.58" fill="#161616"/>
<polygon points="490.85,45.35 491.7,46.58 493.13,47.01 492.23,48.2 492.26,49.69 490.85,49.2 489.44,49.69 489.47,48.2 488.57,47.01 490,46.58" fill="#161616"/>
<polygon points="496.75,45.35 497.6,46.58 499.03,47.01 498.13,48.2 498.16,49.69 496.75,49.2 495.34,49.69 495.37,48.2 494.47,47.01 495.9,46.58" fill="#161616"/>
<text transform="translate(409.07,130.6) rotate(-90) scale(1.2793,1)" font-size="10.000" stroke-width="0.500" fill="#111">liver index (%)</text>
<text transform="translate(395.37,12.72) scale(1.1490,1)" font-size="14.439" stroke-width="0.722" fill="#111">(C)</text>
<line x1="572.2" y1="25.8" x2="572.2" y2="156.2" stroke="#1c1c1c" stroke-width="1.3"/>
<line x1="571.6" y1="155.6" x2="672.8" y2="155.6" stroke="#1c1c1c" stroke-width="1.3"/>
<line x1="566.5" y1="155.6" x2="572.2" y2="155.6" stroke="#1c1c1c" stroke-width="1.2"/>
<text transform="translate(558.84,159.14) scale(0.9625,1)" font-size="11.429" stroke-width="0.571" fill="#111">0</text>
<line x1="566.5" y1="129.74" x2="572.2" y2="129.74" stroke="#1c1c1c" stroke-width="1.2"/>
<text transform="translate(558.67,133.28) scale(0.9625,1)" font-size="11.429" stroke-width="0.571" fill="#111">1</text>
<line x1="566.5" y1="103.88" x2="572.2" y2="103.88" stroke="#1c1c1c" stroke-width="1.2"/>
<text transform="translate(558.84,107.42) scale(0.9625,1)" font-size="11.429" stroke-width="0.571" fill="#111">2</text>
<line x1="566.5" y1="78.02" x2="572.2" y2="78.02" stroke="#1c1c1c" stroke-width="1.2"/>
<text transform="translate(558.78,81.56) scale(0.9625,1)" font-size="11.429" stroke-width="0.571" fill="#111">3</text>
<line x1="566.5" y1="52.16" x2="572.2" y2="52.16" stroke="#1c1c1c" stroke-width="1.2"/>
<text transform="translate(558.45,55.7) scale(0.9625,1)" font-size="11.429" stroke-width="0.571" fill="#111">4</text>
<line x1="566.5" y1="26.3" x2="572.2" y2="26.3" stroke="#1c1c1c" stroke-width="1.2"/>
<text transform="translate(558.67,29.84) scale(0.9625,1)" font-size="11.429" stroke-width="0.571" fill="#111">5</text>
<line x1="588.9" y1="103.8" x2="588.9" y2="107.8" stroke="#1c1c1c" stroke-width="1.2"/>
<line x1="583.2" y1="103.8" x2="594.6" y2="103.8" stroke="#1c1c1c" stroke-width="1.2"/>
<rect x="577.5" y="107.7" width="21.15" height="47.8" fill="#ffffff" stroke="#333333" stroke-width="1.4"/>
<line x1="619.3" y1="32.5" x2="619.3" y2="36" stroke="#1c1c1c" stroke-width="1.2"/>
<line x1="612.8" y1="32.5" x2="625.8" y2="32.5" stroke="#1c1c1c" stroke-width="1.2"/>
<rect x="609.6" y="36.1" width="20.6" height="119.5" fill="#222222" stroke="#1a1a1a" stroke-width="1.2"/>
<line x1="651.55" y1="44.5" x2="651.55" y2="48.3" stroke="#1c1c1c" stroke-width="1.2"/>
<line x1="645.4" y1="44.5" x2="657.7" y2="44.5" stroke="#1c1c1c" stroke-width="1.2"/>
<rect x="640.9" y="48.2" width="21.15" height="107.3" fill="#9c9c9c" stroke="#333333" stroke-width="1.4"/>
<line x1="587.1" y1="29.4" x2="618.7" y2="29.4" stroke="#1c1c1c" stroke-width="1.2"/>
<line x1="621.2" y1="29.4" x2="652.3" y2="29.4" stroke="#1c1c1c" stroke-width="1.2"/>
<polygon points="599.75,23.05 600.6,24.28 602.03,24.71 601.13,25.9 601.16,27.39 599.75,26.9 598.34,27.39 598.37,25.9 597.47,24.71 598.9,24.28" fill="#161616"/>
<polygon points="605.65,23.05 606.5,24.28 607.93,24.71 607.03,25.9 607.06,27.39 605.65,26.9 604.24,27.39 604.27,25.9 603.37,24.71 604.8,24.28" fill="#161616"/>
<polygon points="635.8,23.05 636.65,24.28 638.08,24.71 637.18,25.9 637.21,27.39 635.8,26.9 634.39,27.39 634.42,25.9 633.52,24.71 634.95,24.28" fill="#161616"/>
<text transform="translate(555.38,158.69) rotate(-90) scale(1.2205,1)" font-size="10.000" stroke-width="0.500" fill="#111">epididymal fat  index (%)</text>
<text transform="translate(528.47,12.72) scale(1.1490,1)" font-size="14.439" stroke-width="0.722" fill="#111">(D)</text>
<line x1="292.4" y1="184.4" x2="292.4" y2="315" stroke="#1c1c1c" stroke-width="1.3"/>
<line x1="291.8" y1="314.4" x2="396" y2="314.4" stroke="#1c1c1c" stroke-width="1.3"/>
<line x1="286.5" y1="314.4" x2="292.4" y2="314.4" stroke="#1c1c1c" stroke-width="1.2"/>
<text transform="translate(279.51,318.05) scale(0.8917,1)" font-size="11.739" stroke-width="0.587" fill="#111">0</text>
<line x1="286.5" y1="282.02" x2="292.4" y2="282.02" stroke="#1c1c1c" stroke-width="1.2"/>
<text transform="translate(279.35,285.68) scale(0.8917,1)" font-size="11.739" stroke-width="0.587" fill="#111">1</text>
<line x1="286.5" y1="249.65" x2="292.4" y2="249.65" stroke="#1c1c1c" stroke-width="1.2"/>
<text transform="translate(279.51,253.3) scale(0.8917,1)" font-size="11.739" stroke-width="0.587" fill="#111">2</text>
<line x1="286.5" y1="217.28" x2="292.4" y2="217.28" stroke="#1c1c1c" stroke-width="1.2"/>
<text transform="translate(279.46,220.93) scale(0.8917,1)" font-size="11.739" stroke-width="0.587" fill="#111">3</text>
<line x1="286.5" y1="184.9" x2="292.4" y2="184.9" stroke="#1c1c1c" stroke-width="1.2"/>
<text transform="translate(279.14,188.55) scale(0.8917,1)" font-size="11.739" stroke-width="0.587" fill="#111">4</text>
<line x1="308.6" y1="271.3" x2="308.6" y2="279.2" stroke="#1c1c1c" stroke-width="1.2"/>
<line x1="302.4" y1="271.3" x2="314.8" y2="271.3" stroke="#1c1c1c" stroke-width="1.2"/>
<rect x="297.7" y="279.1" width="21.15" height="35.2" fill="#ffffff" stroke="#333333" stroke-width="1.4"/>
<line x1="340.5" y1="216.1" x2="340.5" y2="224" stroke="#1c1c1c" stroke-width="1.2"/>
<line x1="334.6" y1="216.1" x2="346.4" y2="216.1" stroke="#1c1c1c" stroke-width="1.2"/>
<rect x="329.7" y="224.1" width="20.6" height="90.3" fill="#222222" stroke="#1a1a1a" stroke-width="1.2"/>
<line x1="371.7" y1="229.7" x2="371.7" y2="237.1" stroke="#1c1c1c" stroke-width="1.2"/>
<line x1="365.5" y1="229.7" x2="377.9" y2="229.7" stroke="#1c1c1c" stroke-width="1.2"/>
<rect x="360.8" y="237" width="21.15" height="77.3" fill="#9c9c9c" stroke="#333333" stroke-width="1.4"/>
<line x1="308.6" y1="213" x2="339.5" y2="213" stroke="#1c1c1c" stroke-width="1.2"/>
<polygon points="321.35,207.55 322.2,208.78 323.63,209.21 322.73,210.4 322.76,211.89 321.35,211.4 319.94,211.89 319.97,210.4 319.07,209.21 320.5,208.78" fill="#161616"/>
<polygon points="327.25,207.55 328.1,208.78 329.53,209.21 328.63,210.4 328.66,211.89 327.25,211.4 325.84,211.89 325.87,210.4 324.97,209.21 326.4,208.78" fill="#161616"/>
<text transform="translate(271.32,290.47) rotate(-90) scale(1.2160,1)" font-size="9.800" stroke-width="0.490" fill="#111">FBG (mmol/L)</text>
<text transform="translate(252.95,183.9) scale(1.1653,1)" font-size="14.545" stroke-width="0.727" fill="#111">(F)</text>
<line x1="446" y1="184.6" x2="446" y2="314.8" stroke="#1c1c1c" stroke-width="1.3"/>
<line x1="445.4" y1="314.2" x2="550" y2="314.2" stroke="#1c1c1c" stroke-width="1.3"/>
<line x1="440.3" y1="314.2" x2="446" y2="314.2" stroke="#1c1c1c" stroke-width="1.2"/>
<text transform="translate(421.65,317.54) scale(1.1509,1)" font-size="10.845" stroke-width="0.542" fill="#111">0.0</text>
<line x1="440.3" y1="288.38" x2="446" y2="288.38" stroke="#1c1c1c" stroke-width="1.2"/>
<text transform="translate(421.46,291.72) scale(1.1509,1)" font-size="10.845" stroke-width="0.542" fill="#111">0.5</text>
<line x1="440.3" y1="262.56" x2="446" y2="262.56" stroke="#1c1c1c" stroke-width="1.2"/>
<text transform="translate(421.65,265.9) scale(1.1509,1)" font-size="10.845" stroke-width="0.542" fill="#111">1.0</text>
<line x1="440.3" y1="236.74" x2="446" y2="236.74" stroke="#1c1c1c" stroke-width="1.2"/>
<text transform="translate(421.46,240.08) scale(1.1509,1)" font-size="10.845" stroke-width="0.542" fill="#111">1.5</text>
<line x1="440.3" y1="210.92" x2="446" y2="210.92" stroke="#1c1c1c" stroke-width="1.2"/>
<text transform="translate(421.65,214.26) scale(1.1509,1)" font-size="10.845" stroke-width="0.542" fill="#111">2.0</text>
<line x1="440.3" y1="185.1" x2="446" y2="185.1" stroke="#1c1c1c" stroke-width="1.2"/>
<text transform="translate(421.46,188.44) scale(1.1509,1)" font-size="10.845" stroke-width="0.542" fill="#111">2.5</text>
<line x1="462.25" y1="209.4" x2="462.25" y2="216.8" stroke="#1c1c1c" stroke-width="1.2"/>
<line x1="456.5" y1="209.4" x2="468" y2="209.4" stroke="#1c1c1c" stroke-width="1.2"/>
<rect x="451.5" y="216.7" width="21.05" height="97.4" fill="#ffffff" stroke="#333333" stroke-width="1.4"/>
<line x1="493.45" y1="227.2" x2="493.45" y2="231.9" stroke="#1c1c1c" stroke-width="1.2"/>
<line x1="487" y1="227.2" x2="499.9" y2="227.2" stroke="#1c1c1c" stroke-width="1.2"/>
<rect x="483.2" y="232" width="21.1" height="82.2" fill="#222222" stroke="#1a1a1a" stroke-width="1.2"/>
<line x1="525.65" y1="227.2" x2="525.65" y2="237.1" stroke="#1c1c1c" stroke-width="1.2"/>
<line x1="519.2" y1="227.2" x2="532.1" y2="227.2" stroke="#1c1c1c" stroke-width="1.2"/>
<rect x="514.6" y="237" width="21.05" height="77.1" fill="#9c9c9c" stroke="#333333" stroke-width="1.4"/>
<text transform="translate(414.07,291.88) rotate(-90) scale(1.2062,1)" font-size="10.000" stroke-width="0.500" fill="#111">Insulin (ng/mL)</text>
<text transform="translate(394.59,183.84) scale(1.1361,1)" font-size="14.332" stroke-width="0.717" fill="#111">(G)</text>
<line x1="59.2" y1="349.9" x2="59.2" y2="480.3" stroke="#1c1c1c" stroke-width="1.3"/>
<line x1="58.6" y1="479.7" x2="168" y2="479.7" stroke="#1c1c1c" stroke-width="1.3"/>
<line x1="53.9" y1="479.7" x2="59.2" y2="479.7" stroke="#1c1c1c" stroke-width="1.2"/>
<text transform="translate(35.63,483.33) scale(1.0434,1)" font-size="11.690" stroke-width="0.585" fill="#111">0.0</text>
<line x1="53.9" y1="453.84" x2="59.2" y2="453.84" stroke="#1c1c1c" stroke-width="1.2"/>
<text transform="translate(35.63,457.47) scale(1.0434,1)" font-size="11.690" stroke-width="0.585" fill="#111">2.0</text>
<line x1="53.9" y1="427.98" x2="59.2" y2="427.98" stroke="#1c1c1c" stroke-width="1.2"/>
<text transform="translate(35.63,431.61) scale(1.0434,1)" font-size="11.690" stroke-width="0.585" fill="#111">4.0</text>
<line x1="53.9" y1="402.12" x2="59.2" y2="402.12" stroke="#1c1c1c" stroke-width="1.2"/>
<text transform="translate(35.63,405.75) scale(1.0434,1)" font-size="11.690" stroke-width="0.585" fill="#111">6.0</text>
<line x1="53.9" y1="376.26" x2="59.2" y2="376.26" stroke="#1c1c1c" stroke-width="1.2"/>
<text transform="translate(35.63,379.89) scale(1.0434,1)" font-size="11.690" stroke-width="0.585" fill="#111">8.0</text>
<line x1="53.9" y1="350.4" x2="59.2" y2="350.4" stroke="#1c1c1c" stroke-width="1.2"/>
<text transform="translate(27.13,354.04) scale(1.1719,1)" font-size="11.408" stroke-width="0.570" fill="#111">10.0</text>
<line x1="75.75" y1="411.8" x2="75.75" y2="426.5" stroke="#1c1c1c" stroke-width="1.2"/>
<line x1="69.7" y1="411.8" x2="81.8" y2="411.8" stroke="#1c1c1c" stroke-width="1.2"/>
<rect x="65.5" y="426.4" width="20.75" height="53.2" fill="#ffffff" stroke="#333333" stroke-width="1.4"/>
<line x1="107.65" y1="367.9" x2="107.65" y2="378.8" stroke="#1c1c1c" stroke-width="1.2"/>
<line x1="101.9" y1="367.9" x2="113.4" y2="367.9" stroke="#1c1c1c" stroke-width="1.2"/>
<rect x="97.1" y="378.9" width="20.8" height="100.8" fill="#222222" stroke="#1a1a1a" stroke-width="1.2"/>
<line x1="139.1" y1="403.2" x2="139.1" y2="409.1" stroke="#1c1c1c" stroke-width="1.2"/>
<line x1="132.7" y1="403.2" x2="145.5" y2="403.2" stroke="#1c1c1c" stroke-width="1.2"/>
<rect x="129" y="409" width="20.75" height="70.6" fill="#9c9c9c" stroke="#333333" stroke-width="1.4"/>
<line x1="76.4" y1="364.4" x2="109.9" y2="364.4" stroke="#1c1c1c" stroke-width="1.2"/>
<polygon points="89.15,358.65 90,359.88 91.43,360.31 90.53,361.5 90.56,362.99 89.15,362.5 87.74,362.99 87.77,361.5 86.87,360.31 88.3,359.88" fill="#161616"/>
<polygon points="95.05,358.65 95.9,359.88 97.33,360.31 96.43,361.5 96.46,362.99 95.05,362.5 93.64,362.99 93.67,361.5 92.77,360.31 94.2,359.88" fill="#161616"/>
<text transform="translate(32.2,434.77) rotate(-90) scale(1.0719,1)" font-size="11.000" stroke-width="0.550" fill="#111">HOMA-IR</text>
<text transform="translate(22.45,336.67) scale(1.1586,1)" font-size="14.652" stroke-width="0.733" fill="#111">(H)</text>
<line x1="213.2" y1="350" x2="213.2" y2="480.1" stroke="#1c1c1c" stroke-width="1.3"/>
<line x1="212.6" y1="479.5" x2="317" y2="479.5" stroke="#1c1c1c" stroke-width="1.3"/>
<line x1="207" y1="479.5" x2="213.2" y2="479.5" stroke="#1c1c1c" stroke-width="1.2"/>
<text transform="translate(181.56,482.89) scale(1.1488,1)" font-size="10.986" stroke-width="0.549" fill="#111">0.00</text>
<line x1="207" y1="436.5" x2="213.2" y2="436.5" stroke="#1c1c1c" stroke-width="1.2"/>
<text transform="translate(181.37,439.89) scale(1.1488,1)" font-size="10.986" stroke-width="0.549" fill="#111">0.01</text>
<line x1="207" y1="393.5" x2="213.2" y2="393.5" stroke="#1c1c1c" stroke-width="1.2"/>
<text transform="translate(181.56,396.89) scale(1.1488,1)" font-size="10.986" stroke-width="0.549" fill="#111">0.02</text>
<line x1="207" y1="350.5" x2="213.2" y2="350.5" stroke="#1c1c1c" stroke-width="1.2"/>
<text transform="translate(181.5,353.89) scale(1.1488,1)" font-size="10.986" stroke-width="0.549" fill="#111">0.03</text>
<line x1="228.4" y1="372.4" x2="228.4" y2="396.3" stroke="#1c1c1c" stroke-width="1.2"/>
<line x1="222.1" y1="372.4" x2="234.7" y2="372.4" stroke="#1c1c1c" stroke-width="1.2"/>
<rect x="218.9" y="396.2" width="20.75" height="83.2" fill="#ffffff" stroke="#333333" stroke-width="1.4"/>
<line x1="260.9" y1="453.4" x2="260.9" y2="455.2" stroke="#1c1c1c" stroke-width="1.2"/>
<line x1="254.2" y1="453.4" x2="267.6" y2="453.4" stroke="#1c1c1c" stroke-width="1.2"/>
<rect x="250.8" y="455.3" width="20.8" height="24.2" fill="#222222" stroke="#1a1a1a" stroke-width="1.2"/>
<line x1="292.45" y1="440.8" x2="292.45" y2="445.8" stroke="#1c1c1c" stroke-width="1.2"/>
<line x1="286.4" y1="440.8" x2="298.5" y2="440.8" stroke="#1c1c1c" stroke-width="1.2"/>
<rect x="282.1" y="445.7" width="20.85" height="33.7" fill="#9c9c9c" stroke="#333333" stroke-width="1.4"/>
<line x1="229.3" y1="368" x2="260.9" y2="368" stroke="#1c1c1c" stroke-width="1.2"/>
<polygon points="244.6,362.15 245.45,363.38 246.88,363.81 245.98,365 246.01,366.49 244.6,366 243.19,366.49 243.22,365 242.32,363.81 243.75,363.38" fill="#161616"/>
<text transform="translate(180.63,422.63) rotate(-90) scale(1.1267,1)" font-size="11.400" stroke-width="0.570" fill="#111">ISI</text>
<text transform="translate(183.29,336.67) scale(1.2438,1)" font-size="14.652" stroke-width="0.733" fill="#111">(I)</text>
<line x1="361.7" y1="350" x2="361.7" y2="479.8" stroke="#1c1c1c" stroke-width="1.3"/>
<line x1="361.1" y1="479.2" x2="466" y2="479.2" stroke="#1c1c1c" stroke-width="1.3"/>
<line x1="356" y1="479.2" x2="361.7" y2="479.2" stroke="#1c1c1c" stroke-width="1.2"/>
<text transform="translate(347.9,482.93) scale(1.0546,1)" font-size="11.972" stroke-width="0.599" fill="#111">0</text>
<line x1="356" y1="436.3" x2="361.7" y2="436.3" stroke="#1c1c1c" stroke-width="1.2"/>
<text transform="translate(333.88,440.03) scale(1.0546,1)" font-size="11.972" stroke-width="0.599" fill="#111">100</text>
<line x1="356" y1="393.4" x2="361.7" y2="393.4" stroke="#1c1c1c" stroke-width="1.2"/>
<text transform="translate(333.88,397.13) scale(1.0546,1)" font-size="11.972" stroke-width="0.599" fill="#111">200</text>
<line x1="356" y1="350.5" x2="361.7" y2="350.5" stroke="#1c1c1c" stroke-width="1.2"/>
<text transform="translate(333.88,354.23) scale(1.0546,1)" font-size="11.972" stroke-width="0.599" fill="#111">300</text>
<line x1="377.4" y1="461.7" x2="377.4" y2="463.1" stroke="#1c1c1c" stroke-width="1.2"/>
<line x1="371.4" y1="461.7" x2="383.4" y2="461.7" stroke="#1c1c1c" stroke-width="1.2"/>
<rect x="367.3" y="463" width="20.85" height="16.1" fill="#ffffff" stroke="#333333" stroke-width="1.4"/>
<line x1="409.85" y1="361.5" x2="409.85" y2="382.4" stroke="#1c1c1c" stroke-width="1.2"/>
<line x1="403.4" y1="361.5" x2="416.3" y2="361.5" stroke="#1c1c1c" stroke-width="1.2"/>
<rect x="399.6" y="382.5" width="20" height="96.7" fill="#222222" stroke="#1a1a1a" stroke-width="1.2"/>
<line x1="441.1" y1="437.8" x2="441.1" y2="445.1" stroke="#1c1c1c" stroke-width="1.2"/>
<line x1="435.1" y1="437.8" x2="447.1" y2="437.8" stroke="#1c1c1c" stroke-width="1.2"/>
<rect x="430.6" y="445" width="20.35" height="34.1" fill="#9c9c9c" stroke="#333333" stroke-width="1.4"/>
<line x1="376.5" y1="358.5" x2="407.9" y2="358.5" stroke="#1c1c1c" stroke-width="1.2"/>
<line x1="410.9" y1="358.5" x2="442.3" y2="358.5" stroke="#1c1c1c" stroke-width="1.2"/>
<polygon points="389.05,352.75 389.9,353.98 391.33,354.41 390.43,355.6 390.46,357.09 389.05,356.6 387.64,357.09 387.67,355.6 386.77,354.41 388.2,353.98" fill="#161616"/>
<polygon points="394.95,352.75 395.8,353.98 397.23,354.41 396.33,355.6 396.36,357.09 394.95,356.6 393.54,357.09 393.57,355.6 392.67,354.41 394.1,353.98" fill="#161616"/>
<polygon points="425.8,352.75 426.65,353.98 428.08,354.41 427.18,355.6 427.21,357.09 425.8,356.6 424.39,357.09 424.42,355.6 423.52,354.41 424.95,353.98" fill="#161616"/>
<text transform="translate(330.43,440) rotate(-90) scale(1.1652,1)" font-size="10.200" stroke-width="0.510" fill="#111">ALT (U/L)</text>
<text transform="translate(318.84,336.67) scale(1.1708,1)" font-size="14.652" stroke-width="0.733" fill="#111">(J)</text>
<line x1="513.2" y1="350.3" x2="513.2" y2="479.8" stroke="#1c1c1c" stroke-width="1.3"/>
<line x1="512.6" y1="479.2" x2="615.2" y2="479.2" stroke="#1c1c1c" stroke-width="1.3"/>
<line x1="507.6" y1="479.2" x2="513.2" y2="479.2" stroke="#1c1c1c" stroke-width="1.2"/>
<text transform="translate(499.56,482.88) scale(1.0738,1)" font-size="11.831" stroke-width="0.592" fill="#111">0</text>
<line x1="507.6" y1="447.1" x2="513.2" y2="447.1" stroke="#1c1c1c" stroke-width="1.2"/>
<text transform="translate(492.51,450.78) scale(1.0738,1)" font-size="11.831" stroke-width="0.592" fill="#111">50</text>
<line x1="507.6" y1="415" x2="513.2" y2="415" stroke="#1c1c1c" stroke-width="1.2"/>
<text transform="translate(485.46,418.68) scale(1.0738,1)" font-size="11.831" stroke-width="0.592" fill="#111">100</text>
<line x1="507.6" y1="382.9" x2="513.2" y2="382.9" stroke="#1c1c1c" stroke-width="1.2"/>
<text transform="translate(485.46,386.58) scale(1.0738,1)" font-size="11.831" stroke-width="0.592" fill="#111">150</text>
<line x1="507.6" y1="350.8" x2="513.2" y2="350.8" stroke="#1c1c1c" stroke-width="1.2"/>
<text transform="translate(485.46,354.48) scale(1.0738,1)" font-size="11.831" stroke-width="0.592" fill="#111">200</text>
<line x1="528.55" y1="416.8" x2="528.55" y2="421.8" stroke="#1c1c1c" stroke-width="1.2"/>
<line x1="522.6" y1="416.8" x2="534.5" y2="416.8" stroke="#1c1c1c" stroke-width="1.2"/>
<rect x="519.3" y="421.7" width="20.85" height="57.4" fill="#ffffff" stroke="#333333" stroke-width="1.4"/>
<line x1="561.4" y1="357.9" x2="561.4" y2="365" stroke="#1c1c1c" stroke-width="1.2"/>
<line x1="555.4" y1="357.9" x2="567.4" y2="357.9" stroke="#1c1c1c" stroke-width="1.2"/>
<rect x="551" y="365.1" width="20.6" height="114.1" fill="#222222" stroke="#1a1a1a" stroke-width="1.2"/>
<line x1="592.65" y1="379.5" x2="592.65" y2="385.9" stroke="#1c1c1c" stroke-width="1.2"/>
<line x1="586.2" y1="379.5" x2="599.1" y2="379.5" stroke="#1c1c1c" stroke-width="1.2"/>
<rect x="582.6" y="385.8" width="20.65" height="93.3" fill="#9c9c9c" stroke="#333333" stroke-width="1.4"/>
<line x1="529.4" y1="355" x2="561.4" y2="355" stroke="#1c1c1c" stroke-width="1.2"/>
<line x1="563.8" y1="355" x2="595.2" y2="355" stroke="#1c1c1c" stroke-width="1.2"/>
<polygon points="542.55,349.75 543.4,350.98 544.83,351.41 543.93,352.6 543.96,354.09 542.55,353.6 541.14,354.09 541.17,352.6 540.27,351.41 541.7,350.98" fill="#161616"/>
<polygon points="548.45,349.75 549.3,350.98 550.73,351.41 549.83,352.6 549.86,354.09 548.45,353.6 547.04,354.09 547.07,352.6 546.17,351.41 547.6,350.98" fill="#161616"/>
<polygon points="579,349.75 579.85,350.98 581.28,351.41 580.38,352.6 580.41,354.09 579,353.6 577.59,354.09 577.62,352.6 576.72,351.41 578.15,350.98" fill="#161616"/>
<text transform="translate(481.43,439.99) rotate(-90) scale(1.1445,1)" font-size="10.200" stroke-width="0.510" fill="#111">AST (U/L)</text>
<text transform="translate(472.75,336.67) scale(1.1586,1)" font-size="14.652" stroke-width="0.733" fill="#111">(K)</text>
<rect x="566.9" y="224.6" width="21.3" height="14.1" fill="#ffffff" stroke="#222" stroke-width="1.4"/>
<rect x="566.9" y="255.4" width="21.3" height="14.5" fill="#222222" stroke="#1a1a1a" stroke-width="1.4"/>
<rect x="567.2" y="286.3" width="20.7" height="14.4" fill="#9c9c9c" stroke="#222" stroke-width="1.4"/>
<text transform="translate(591.45,236.91) scale(1.1910,1)" font-size="13.741" stroke-width="0.687" fill="#111">control</text>
<text transform="translate(591.29,267.45) scale(1.1249,1)" font-size="13.768" stroke-width="0.688" fill="#111">HFD</text>
<text transform="translate(591.29,298.15) scale(1.1440,1)" font-size="13.623" stroke-width="0.681" fill="#111">HFD+FMT</text>
</svg>
</body></html>
